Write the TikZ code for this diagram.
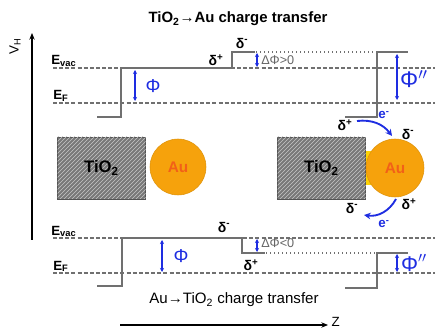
\documentclass[tikz,border=0pt]{standalone}
\usepackage{fontspec}
\setmainfont{Liberation Sans}
\usepackage{xcolor}
\usetikzlibrary{positioning,patterns,arrows.meta}
\definecolor{phiblue}{RGB}{30,45,225}
\definecolor{aufill}{RGB}{246,162,12}
\definecolor{autext}{RGB}{242,96,24}
\definecolor{lvlgray}{RGB}{112,112,112}
\definecolor{slabgray}{RGB}{120,120,120}

\begin{document}
\begin{tikzpicture}[x=0.75pt, y=-0.75pt, >=stealth, font=\fontsize{10}{12}\selectfont]
  \tikzstyle{vac}=[draw=lvlgray, line width=0.9pt, dash pattern=on 3pt off 1.6pt]
  \tikzstyle{level}=[draw=lvlgray, line width=1pt]
  \tikzstyle{dotlvl}=[draw=lvlgray, line width=1pt, dotted]
  \tikzstyle{phi}=[{Stealth[length=3pt,width=3pt]}-{Stealth[length=3pt,width=3pt]}, phiblue, line width=0.9pt]
  \tikzstyle{etrans}=[-{Stealth[length=5pt,width=5pt]}, phiblue, line width=1.4pt]
  \tikzstyle{axis}=[-{Stealth[length=5pt,width=4pt]}, line width=1.2pt]
  \tikzstyle{slab}=[rectangle, draw=slabgray!70!black, fill=slabgray, line width=0.6pt,
                    postaction={pattern=north east lines, pattern color=gray!45},
                    minimum width=66pt, minimum height=46.5pt, font=\bfseries\fontsize{12.5}{14}\selectfont]
  \tikzstyle{dot}=[circle, fill=aufill, draw=aufill!90!black, line width=0.4pt, inner sep=0pt,
                   text=autext, font=\bfseries\fontsize{11.5}{13}\selectfont]
  \tikzstyle{lvllabel}=[anchor=base west, inner sep=0pt, font=\bfseries\fontsize{10}{12}\selectfont]
  \tikzstyle{chg}=[inner sep=0pt, font=\bfseries\fontsize{10.5}{12}\selectfont]
  \tikzstyle{philabel}=[inner sep=0pt, text=phiblue]
  \tikzstyle{dlabel}=[anchor=west, inner sep=0pt, text=gray!80!black, font=\fontsize{9.5}{10}\selectfont]
  \tikzstyle{elabel}=[inner sep=0pt, text=phiblue, font=\bfseries\fontsize{10}{12}\selectfont]

  \useasboundingbox (0,0) rectangle (435,331);

  % axes
  \coordinate (vbot) at (32,240);
  \coordinate (vtop) at (32,33);
  \draw[axis] (vbot) -- (vtop);
  \node[rotate=90] (vh) at (15,46) {V\textsubscript{H}};
  \coordinate (zleft) at (120,325);
  \coordinate (zright) at (328,325);
  \draw[axis] (zleft) -- (zright);
  \node[anchor=west, inner sep=1pt] (zlab) at (330,322) {Z};

  % titles
  \node[font=\bfseries\fontsize{11.2}{13}\selectfont] (ttop) at (238,19) {TiO\textsubscript{2}→Au charge transfer};
  \node[font=\fontsize{11.3}{13}\selectfont] (tbot) at (234,300) {Au→TiO\textsubscript{2} charge transfer};

  % upper diagram: TiO2 -> Au
  \draw[vac] (53,68) -- (435,68);
  \draw[vac] (53,103) -- (435,103);
  \draw[level] (97,117) -- (121,117) -- (121,68) -- (232,68) -- (232,52) -- (255,52);
  \draw[dotlvl] (256,52) -- (376,52);
  \draw[level] (345,117) -- (377,117) -- (377,52) -- (408,52);
  \node[lvllabel] (evac1) at (51,65) {E\textsubscript{vac}};
  \node[lvllabel] (ef1) at (53,100) {E\textsubscript{F}};
  \coordinate (phi1a) at (135,70);
  \coordinate (phi1b) at (135,101);
  \draw[phi] (phi1a) -- (phi1b);
  \node[philabel, font=\fontsize{14}{14}\selectfont] (phi1) at (153,86) {Φ};
  \coordinate (dphi1a) at (257,53);
  \coordinate (dphi1b) at (257,67);
  \draw[phi] (dphi1a) -- (dphi1b);
  \node[dlabel] (dphi1) at (261,60) {ΔΦ>0};
  \node[chg] (dm1) at (242,43) {δ\textsuperscript{-}};
  \node[chg] (dp1) at (216,60) {δ\textsuperscript{+}};
  \coordinate (phi2a) at (397,54);
  \coordinate (phi2b) at (397,100);
  \draw[phi] (phi2a) -- (phi2b);
  \node[philabel, font=\fontsize{17}{17}\selectfont] (phi2) at (414,79) {Φ$''$};

  % lower diagram: Au -> TiO2
  \draw[vac] (53,238) -- (435,238);
  \draw[vac] (53,273) -- (435,273);
  \draw[level] (97,286) -- (122,286) -- (122,238) -- (242,238) -- (242,253) -- (265,253);
  \draw[dotlvl] (266,253) -- (376,253);
  \draw[level] (345,288) -- (377,288) -- (377,253) -- (408,253);
  \node[lvllabel] (evac2) at (51,235) {E\textsubscript{vac}};
  \node[lvllabel] (ef2) at (53,270) {E\textsubscript{F}};
  \coordinate (phi3a) at (162,240);
  \coordinate (phi3b) at (162,272);
  \draw[phi] (phi3a) -- (phi3b);
  \node[philabel, font=\fontsize{14}{14}\selectfont] (phi3) at (181,256) {Φ};
  \coordinate (dphi2a) at (257,239);
  \coordinate (dphi2b) at (257,252);
  \draw[phi] (dphi2a) -- (dphi2b);
  \node[dlabel] (dphi2) at (261,243) {ΔΦ<0};
  \node[chg] (dm2) at (224,227) {δ\textsuperscript{-}};
  \node[chg] (dp2) at (251,265) {δ\textsuperscript{+}};
  \coordinate (phi4a) at (397,254);
  \coordinate (phi4b) at (397,272);
  \draw[phi] (phi4a) -- (phi4b);
  \node[philabel, font=\fontsize{16}{16}\selectfont] (phi4) at (414,263) {Φ$''$};

  % separated TiO2 and Au
  \node[slab] (tio1) at (101.5,168) {TiO\textsubscript{2}};
  \node[dot, minimum size=42pt] (au1) at (178,167) {Au};

  % contact TiO2/Au
  \fill[yellow!70!orange] (365,151) rectangle (373,185);
  \node[slab] (tio2) at (321.5,168) {TiO\textsubscript{2}};
  \node[dot, minimum size=43.5pt] (au2) at (395,168) {Au};
  \node[chg] (dp3) at (345,125) {δ\textsuperscript{+}};
  \node[chg] (dm3) at (408,134) {δ\textsuperscript{-}};
  \node[chg] (dp4) at (409,204) {δ\textsuperscript{+}};
  \node[chg] (dm4) at (352,208) {δ\textsuperscript{-}};
  \coordinate (e1a) at (357,121);
  \coordinate (e1b) at (392,136);
  \draw[etrans] (e1a) to[bend left=30] (e1b);
  \node[elabel] (e1) at (384,115) {e\textsuperscript{-}};
  \coordinate (e2a) at (396,199);
  \coordinate (e2b) at (364,215);
  \draw[etrans] (e2a) to[bend left=35] (e2b);
  \node[elabel] (e2) at (384,224) {e\textsuperscript{-}};
\end{tikzpicture}
\end{document}
